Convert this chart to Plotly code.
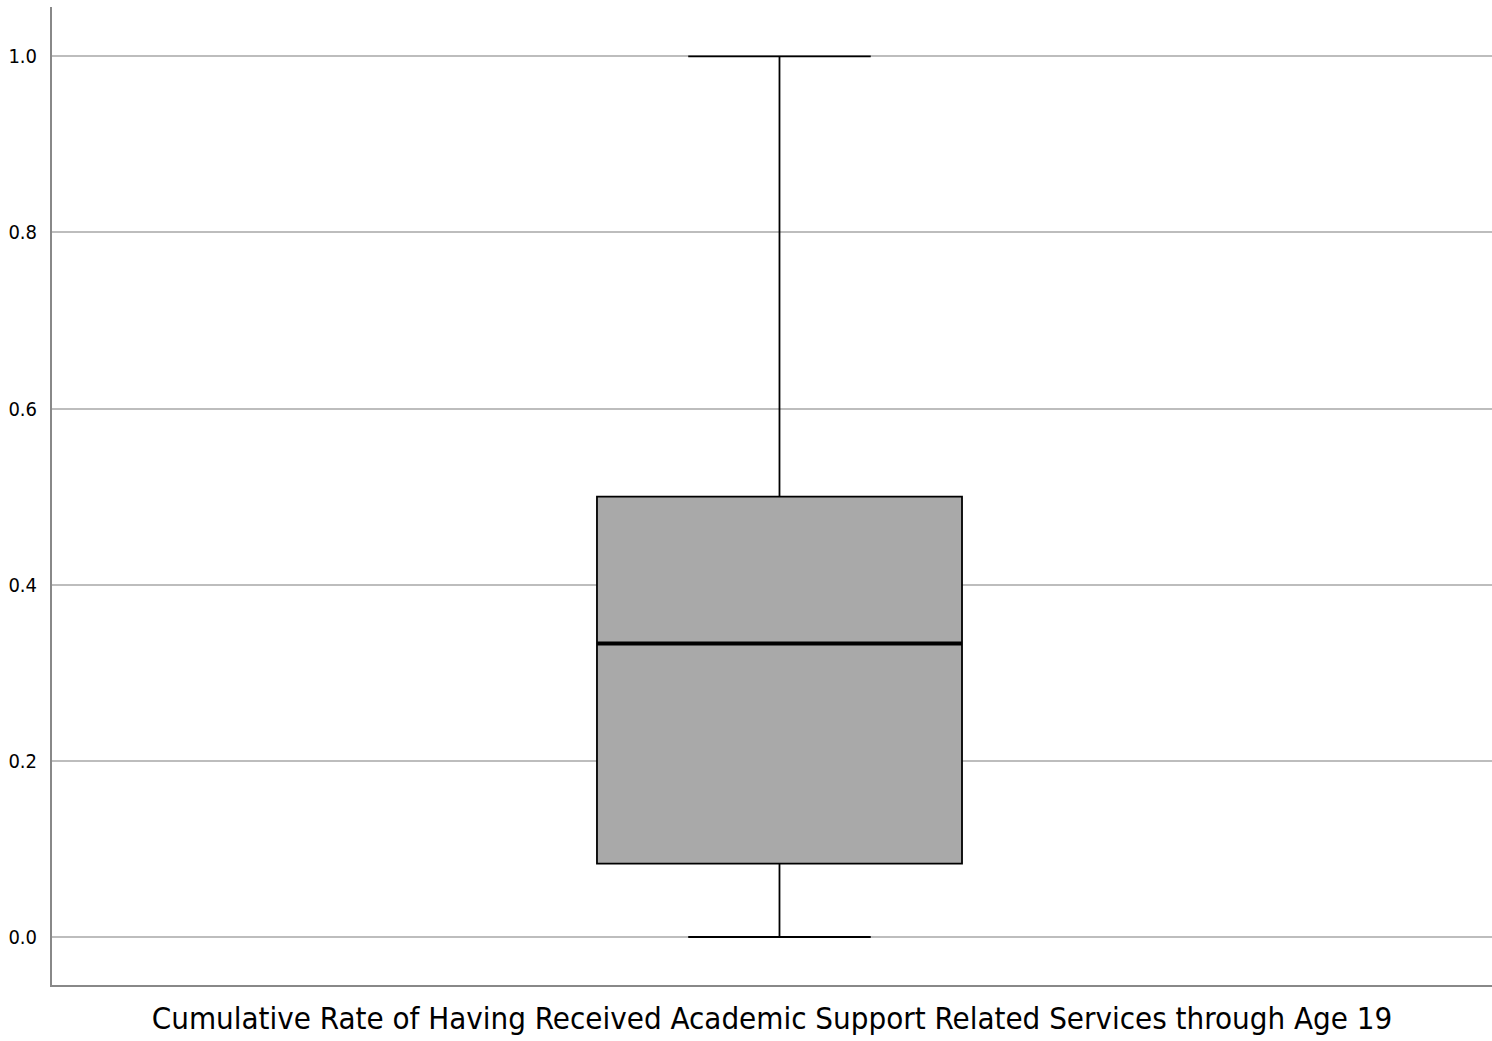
import plotly.graph_objects as go

# data
category = [0]
q1 = [0.0833]
median = [0.3333]
q3 = [0.5]
lower_fence = [0.0]
upper_fence = [1.0]
y_ticks = [0.0, 0.2, 0.4, 0.6, 0.8, 1.0]
y_tick_labels = ["0.0", "0.2", "0.4", "0.6", "0.8", "1.0"]
x_title = "Cumulative Rate of Having Received Academic Support Related Services through Age 19"

BOX_W = 0.507

fig = go.Figure()
fig.add_trace(go.Box(
    x=category, q1=q1, median=median, q3=q3,
    lowerfence=lower_fence, upperfence=upper_fence,
    width=BOX_W, whiskerwidth=0.5,
    fillcolor="#a9a9a9",
    line=dict(color="#000000", width=1.8),
    boxpoints=False, showlegend=False, hoverinfo="skip",
))
# thicker median line
fig.add_trace(go.Scatter(
    x=[category[0] - BOX_W / 2, category[0] + BOX_W / 2],
    y=[median[0], median[0]],
    mode="lines", line=dict(color="#000000", width=4),
    showlegend=False, hoverinfo="skip",
))

fig.update_layout(
    width=1492, height=1041,
    margin=dict(l=52, r=0, t=7, b=56),
    plot_bgcolor="white", paper_bgcolor="white",
    font=dict(family="DejaVu Sans Condensed, DejaVu Sans", color="#000000"),
)
fig.update_xaxes(
    range=[-1.0104, 0.9896], showticklabels=False, showgrid=False, zeroline=False,
    showline=True, linecolor="#888888", linewidth=2, ticks="",
    title=dict(text=x_title, font=dict(size=31, family="DejaVu Sans Condensed, DejaVu Sans"), standoff=21),
)
fig.update_yaxes(
    range=[-0.0545, 1.056], tickvals=y_ticks, ticktext=y_tick_labels,
    showgrid=True, gridcolor="#bdbdbd", gridwidth=1.5, zeroline=False,
    showline=True, linecolor="#888888", linewidth=2, ticks="",
    tickfont=dict(size=20), ticklabelstandoff=9,
)
fig.write_html(
    "out.html",
    config={"displayModeBar": False},
    post_script="document.body.style.margin='0';document.body.style.overflow='hidden';",
)
